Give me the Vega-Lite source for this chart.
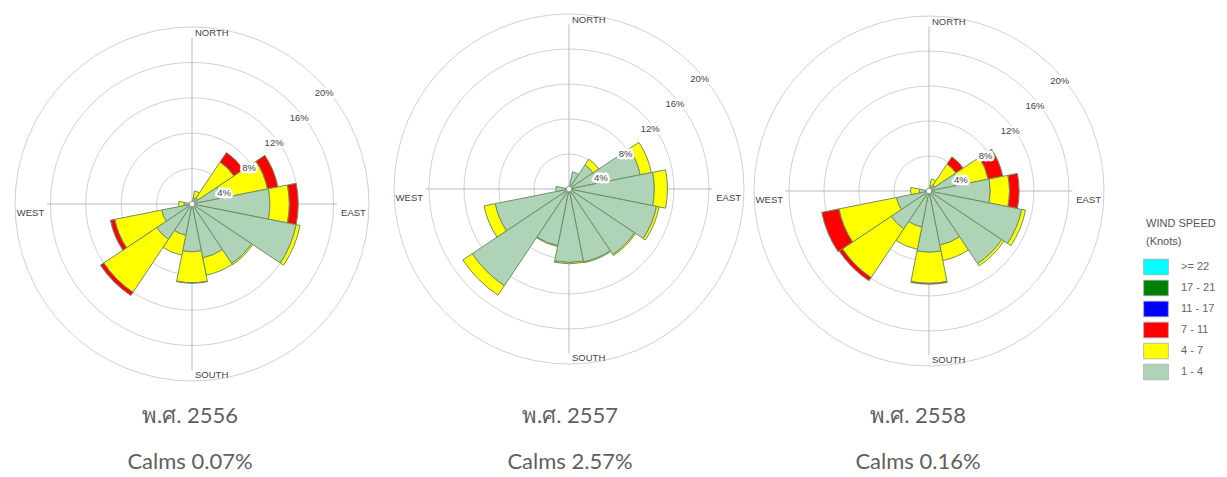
{
  "$schema": "https://vega.github.io/schema/vega-lite/v6.json",
  "padding": 0,
  "background": "white",
  "spacing": 0,
  "bounds": "flush",
  "datasets": {
    "wind": [
      {"year": "2556", "dir": "N", "speed": "1 - 4", "pct": 0.2},
      {"year": "2556", "dir": "NNE", "speed": "1 - 4", "pct": 0.7},
      {"year": "2556", "dir": "NNE", "speed": "4 - 7", "pct": 0.8},
      {"year": "2556", "dir": "NE", "speed": "1 - 4", "pct": 0.8},
      {"year": "2556", "dir": "NE", "speed": "4 - 7", "pct": 4.9},
      {"year": "2556", "dir": "NE", "speed": "7 - 11", "pct": 1.3},
      {"year": "2556", "dir": "ENE", "speed": "1 - 4", "pct": 3.4},
      {"year": "2556", "dir": "ENE", "speed": "4 - 7", "pct": 5.3},
      {"year": "2556", "dir": "ENE", "speed": "7 - 11", "pct": 1.2},
      {"year": "2556", "dir": "E", "speed": "1 - 4", "pct": 8.8},
      {"year": "2556", "dir": "E", "speed": "4 - 7", "pct": 2.2},
      {"year": "2556", "dir": "E", "speed": "7 - 11", "pct": 1.0},
      {"year": "2556", "dir": "ESE", "speed": "1 - 4", "pct": 12.0},
      {"year": "2556", "dir": "ESE", "speed": "4 - 7", "pct": 0.45},
      {"year": "2556", "dir": "SE", "speed": "1 - 4", "pct": 8.1},
      {"year": "2556", "dir": "SE", "speed": "4 - 7", "pct": 0.15},
      {"year": "2556", "dir": "SSE", "speed": "1 - 4", "pct": 6.2},
      {"year": "2556", "dir": "SSE", "speed": "4 - 7", "pct": 2.0},
      {"year": "2556", "dir": "S", "speed": "1 - 4", "pct": 5.4},
      {"year": "2556", "dir": "S", "speed": "4 - 7", "pct": 3.5},
      {"year": "2556", "dir": "S", "speed": "7 - 11", "pct": 0.05},
      {"year": "2556", "dir": "SSW", "speed": "1 - 4", "pct": 3.6},
      {"year": "2556", "dir": "SSW", "speed": "4 - 7", "pct": 2.3},
      {"year": "2556", "dir": "SW", "speed": "1 - 4", "pct": 4.8},
      {"year": "2556", "dir": "SW", "speed": "4 - 7", "pct": 7.2},
      {"year": "2556", "dir": "SW", "speed": "7 - 11", "pct": 0.45},
      {"year": "2556", "dir": "WSW", "speed": "1 - 4", "pct": 3.5},
      {"year": "2556", "dir": "WSW", "speed": "4 - 7", "pct": 5.4},
      {"year": "2556", "dir": "WSW", "speed": "7 - 11", "pct": 0.5},
      {"year": "2556", "dir": "W", "speed": "1 - 4", "pct": 0.9},
      {"year": "2556", "dir": "W", "speed": "4 - 7", "pct": 0.6},
      {"year": "2556", "dir": "WNW", "speed": "1 - 4", "pct": 0.2},
      {"year": "2556", "dir": "NW", "speed": "1 - 4", "pct": 0.1},
      {"year": "2556", "dir": "NNW", "speed": "1 - 4", "pct": 0.1},

      {"year": "2557", "dir": "N", "speed": "1 - 4", "pct": 0.3},
      {"year": "2557", "dir": "NNE", "speed": "1 - 4", "pct": 2.0},
      {"year": "2557", "dir": "NE", "speed": "1 - 4", "pct": 3.3},
      {"year": "2557", "dir": "NE", "speed": "4 - 7", "pct": 0.8},
      {"year": "2557", "dir": "ENE", "speed": "1 - 4", "pct": 8.3},
      {"year": "2557", "dir": "ENE", "speed": "4 - 7", "pct": 1.3},
      {"year": "2557", "dir": "E", "speed": "1 - 4", "pct": 9.75},
      {"year": "2557", "dir": "E", "speed": "4 - 7", "pct": 1.5},
      {"year": "2557", "dir": "ESE", "speed": "1 - 4", "pct": 10.2},
      {"year": "2557", "dir": "ESE", "speed": "4 - 7", "pct": 0.3},
      {"year": "2557", "dir": "SE", "speed": "1 - 4", "pct": 9.0},
      {"year": "2557", "dir": "SE", "speed": "4 - 7", "pct": 0.15},
      {"year": "2557", "dir": "SSE", "speed": "1 - 4", "pct": 8.5},
      {"year": "2557", "dir": "SSE", "speed": "4 - 7", "pct": 0.1},
      {"year": "2557", "dir": "S", "speed": "1 - 4", "pct": 8.4},
      {"year": "2557", "dir": "S", "speed": "4 - 7", "pct": 0.15},
      {"year": "2557", "dir": "SSW", "speed": "1 - 4", "pct": 6.6},
      {"year": "2557", "dir": "SSW", "speed": "4 - 7", "pct": 0.1},
      {"year": "2557", "dir": "SW", "speed": "1 - 4", "pct": 13.3},
      {"year": "2557", "dir": "SW", "speed": "4 - 7", "pct": 1.3},
      {"year": "2557", "dir": "WSW", "speed": "1 - 4", "pct": 8.6},
      {"year": "2557", "dir": "WSW", "speed": "4 - 7", "pct": 1.3},
      {"year": "2557", "dir": "W", "speed": "1 - 4", "pct": 1.5},
      {"year": "2557", "dir": "WNW", "speed": "1 - 4", "pct": 0.3},
      {"year": "2557", "dir": "NW", "speed": "1 - 4", "pct": 0.2},
      {"year": "2557", "dir": "NNW", "speed": "1 - 4", "pct": 0.2},

      {"year": "2558", "dir": "N", "speed": "1 - 4", "pct": 0.1},
      {"year": "2558", "dir": "NNE", "speed": "1 - 4", "pct": 0.6},
      {"year": "2558", "dir": "NNE", "speed": "4 - 7", "pct": 0.8},
      {"year": "2558", "dir": "NE", "speed": "1 - 4", "pct": 0.8},
      {"year": "2558", "dir": "NE", "speed": "4 - 7", "pct": 2.9},
      {"year": "2558", "dir": "NE", "speed": "7 - 11", "pct": 1.0},
      {"year": "2558", "dir": "ENE", "speed": "1 - 4", "pct": 3.5},
      {"year": "2558", "dir": "ENE", "speed": "4 - 7", "pct": 3.4},
      {"year": "2558", "dir": "ENE", "speed": "7 - 11", "pct": 1.7},
      {"year": "2558", "dir": "E", "speed": "1 - 4", "pct": 7.0},
      {"year": "2558", "dir": "E", "speed": "4 - 7", "pct": 2.2},
      {"year": "2558", "dir": "E", "speed": "7 - 11", "pct": 1.1},
      {"year": "2558", "dir": "ESE", "speed": "1 - 4", "pct": 10.8},
      {"year": "2558", "dir": "ESE", "speed": "4 - 7", "pct": 0.45},
      {"year": "2558", "dir": "SE", "speed": "1 - 4", "pct": 10.0},
      {"year": "2558", "dir": "SE", "speed": "4 - 7", "pct": 0.3},
      {"year": "2558", "dir": "SSE", "speed": "1 - 4", "pct": 6.3},
      {"year": "2558", "dir": "SSE", "speed": "4 - 7", "pct": 1.8},
      {"year": "2558", "dir": "S", "speed": "1 - 4", "pct": 7.0},
      {"year": "2558", "dir": "S", "speed": "4 - 7", "pct": 3.55},
      {"year": "2558", "dir": "S", "speed": "7 - 11", "pct": 0.1},
      {"year": "2558", "dir": "SSW", "speed": "1 - 4", "pct": 4.2},
      {"year": "2558", "dir": "SSW", "speed": "4 - 7", "pct": 2.6},
      {"year": "2558", "dir": "SW", "speed": "1 - 4", "pct": 5.2},
      {"year": "2558", "dir": "SW", "speed": "4 - 7", "pct": 6.7},
      {"year": "2558", "dir": "SW", "speed": "7 - 11", "pct": 0.45},
      {"year": "2558", "dir": "WSW", "speed": "1 - 4", "pct": 3.8},
      {"year": "2558", "dir": "WSW", "speed": "4 - 7", "pct": 6.7},
      {"year": "2558", "dir": "WSW", "speed": "7 - 11", "pct": 2.0},
      {"year": "2558", "dir": "W", "speed": "1 - 4", "pct": 1.1},
      {"year": "2558", "dir": "W", "speed": "4 - 7", "pct": 1.0},
      {"year": "2558", "dir": "WNW", "speed": "1 - 4", "pct": 0.2},
      {"year": "2558", "dir": "NW", "speed": "1 - 4", "pct": 0.1},
      {"year": "2558", "dir": "NNW", "speed": "1 - 4", "pct": 0.1}
    ],
    "rings": [
      {"ring": 4, "label": "4%"},
      {"ring": 8, "label": "8%"},
      {"ring": 12, "label": "12%"},
      {"ring": 16, "label": "16%"},
      {"ring": 20, "label": "20%"}
    ],
    "compass": [
      {"label": "NORTH", "dir": "N"},
      {"label": "SOUTH", "dir": "S"},
      {"label": "EAST", "dir": "E"},
      {"label": "WEST", "dir": "W"}
    ]
  },
  "hconcat": [
    {
      "width": 380,
      "height": 400,
      "title": {"text": ["พ.ศ. 2556", "Calms 0.07%"]},
      "layer": [
        {
          "data": {"name": "rings"},
          "mark": {"type": "arc", "filled": false, "stroke": "#d0d0da", "strokeWidth": 1, "theta": 0, "theta2": 6.2832},
          "encoding": {
            "x": {"datum": 0, "type": "quantitative", "scale": {"domain": [-21.695, 21.243], "nice": false, "zero": false}, "axis": null},
            "y": {"datum": 0, "type": "quantitative", "scale": {"domain": [-22.147, 23.051], "nice": false, "zero": false}, "axis": null},
            "radius": {"field": "ring", "type": "quantitative", "stack": null, "scale": {"type": "linear", "domain": [0, 20], "range": [0, 177], "zero": true, "nice": false}}
          }
        },
        {
          "data": {"values": [{}]},
          "mark": {"type": "rule", "stroke": "#b9b9cc", "strokeWidth": 1},
          "encoding": {
            "x": {"datum": -16.4, "type": "quantitative"},
            "x2": {"datum": 16.4},
            "y": {"datum": 0, "type": "quantitative"}
          }
        },
        {
          "data": {"values": [{}]},
          "mark": {"type": "rule", "stroke": "#b9b9cc", "strokeWidth": 1},
          "encoding": {
            "x": {"datum": 0, "type": "quantitative"},
            "y": {"datum": -18.8, "type": "quantitative"},
            "y2": {"datum": 18.8}
          }
        },
        {
          "data": {"name": "wind"},
          "transform": [
            {"filter": "datum.year === '2556'"},
            {"stack": "pct", "groupby": ["dir"], "sort": [{"field": "speed", "order": "ascending"}], "as": ["r0", "r1"]}
          ],
          "mark": {"type": "arc", "stroke": "#6f8f66", "strokeWidth": 1},
          "encoding": {
            "x": {"datum": 0, "type": "quantitative"},
            "y": {"datum": 0, "type": "quantitative"},
            "theta": {"field": "dir", "type": "nominal", "scale": {"type": "band", "domain": ["N","NNE","NE","ENE","E","ESE","SE","SSE","S","SSW","SW","WSW","W","WNW","NW","NNW"], "range": [-0.19635, 6.08684], "paddingInner": 0, "paddingOuter": 0}},
            "radius": {"field": "r1", "type": "quantitative", "stack": null},
            "radius2": {"field": "r0"},
            "color": {"field": "speed", "type": "nominal", "title": ["WIND SPEED", "(Knots)"], "scale": {"domain": [">= 22", "17 - 21", "11 - 17", "7 - 11", "4 - 7", "1 - 4"], "range": ["#00ffff", "#008000", "#0000ff", "#ff0000", "#ffff00", "#afd3b7"]}}
          }
        },
        {
          "data": {"values": [{}]},
          "mark": {"type": "point", "filled": true, "fill": "white", "stroke": "#999999", "strokeWidth": 1, "size": 30, "opacity": 1},
          "encoding": {
            "x": {"datum": 0, "type": "quantitative"},
            "y": {"datum": 0, "type": "quantitative"}
          }
        },
        {
          "data": {"name": "rings"},
          "mark": {"type": "text", "font": "Liberation Sans", "fontSize": 9.5, "fill": "white", "stroke": "white", "strokeWidth": 5, "strokeJoin": "round", "dx": 7, "dy": 14},
          "encoding": {
            "x": {"datum": 0, "type": "quantitative"},
            "y": {"datum": 0, "type": "quantitative"},
            "theta": {"datum": "NE", "type": "nominal", "bandPosition": 0.5},
            "radius": {"field": "ring", "type": "quantitative", "stack": null},
            "text": {"field": "label"}
          }
        },
        {
          "data": {"name": "rings"},
          "mark": {"type": "text", "font": "Liberation Sans", "fontSize": 9.5, "fill": "#444444", "dx": 7, "dy": 14},
          "encoding": {
            "x": {"datum": 0, "type": "quantitative"},
            "y": {"datum": 0, "type": "quantitative"},
            "theta": {"datum": "NE", "type": "nominal", "bandPosition": 0.5},
            "radius": {"field": "ring", "type": "quantitative", "stack": null},
            "text": {"field": "label"}
          }
        },
        {
          "data": {"name": "compass"},
          "transform": [{"filter": "datum.dir === 'N' || datum.dir === 'S'"}],
          "mark": {"type": "text", "font": "Liberation Sans", "fontSize": 9.5, "fill": "#444444", "align": "left", "baseline": "middle", "dx": 3},
          "encoding": {
            "x": {"datum": 0, "type": "quantitative"},
            "y": {"datum": 0, "type": "quantitative"},
            "theta": {"field": "dir", "type": "nominal", "bandPosition": 0.5},
            "radius": {"datum": 19.3, "type": "quantitative", "stack": null},
            "text": {"field": "label"}
          }
        },
        {
          "data": {"name": "compass"},
          "transform": [{"filter": "datum.dir === 'E' || datum.dir === 'W'"}],
          "mark": {"type": "text", "font": "Liberation Sans", "fontSize": 9.5, "fill": "#444444", "align": "center", "baseline": "middle", "dy": 9},
          "encoding": {
            "x": {"datum": 0, "type": "quantitative"},
            "y": {"datum": 0, "type": "quantitative"},
            "theta": {"field": "dir", "type": "nominal", "bandPosition": 0.5},
            "radius": {"datum": 18.25, "type": "quantitative", "stack": null},
            "text": {"field": "label"}
          }
        }
      ]
    },
    {
      "width": 380,
      "height": 400,
      "title": {"text": ["พ.ศ. 2557", "Calms 2.57%"]},
      "layer": [
        {
          "data": {"name": "rings"},
          "mark": {"type": "arc", "filled": false, "stroke": "#d0d0da", "strokeWidth": 1, "theta": 0, "theta2": 6.2832},
          "encoding": {
            "x": {"datum": 0, "type": "quantitative", "scale": {"domain": [-21.6, 21.829], "nice": false, "zero": false}, "axis": null},
            "y": {"datum": 0, "type": "quantitative", "scale": {"domain": [-24.114, 21.6], "nice": false, "zero": false}, "axis": null},
            "radius": {"field": "ring", "type": "quantitative", "stack": null, "scale": {"type": "linear", "domain": [0, 20], "range": [0, 175], "zero": true, "nice": false}}
          }
        },
        {
          "data": {"values": [{}]},
          "mark": {"type": "rule", "stroke": "#b9b9cc", "strokeWidth": 1},
          "encoding": {
            "x": {"datum": -16.4, "type": "quantitative"},
            "x2": {"datum": 16.4},
            "y": {"datum": 0, "type": "quantitative"}
          }
        },
        {
          "data": {"values": [{}]},
          "mark": {"type": "rule", "stroke": "#b9b9cc", "strokeWidth": 1},
          "encoding": {
            "x": {"datum": 0, "type": "quantitative"},
            "y": {"datum": -18.8, "type": "quantitative"},
            "y2": {"datum": 18.8}
          }
        },
        {
          "data": {"name": "wind"},
          "transform": [
            {"filter": "datum.year === '2557'"},
            {"stack": "pct", "groupby": ["dir"], "sort": [{"field": "speed", "order": "ascending"}], "as": ["r0", "r1"]}
          ],
          "mark": {"type": "arc", "stroke": "#6f8f66", "strokeWidth": 1},
          "encoding": {
            "x": {"datum": 0, "type": "quantitative"},
            "y": {"datum": 0, "type": "quantitative"},
            "theta": {"field": "dir", "type": "nominal", "scale": {"type": "band", "domain": ["N","NNE","NE","ENE","E","ESE","SE","SSE","S","SSW","SW","WSW","W","WNW","NW","NNW"], "range": [-0.19635, 6.08684], "paddingInner": 0, "paddingOuter": 0}},
            "radius": {"field": "r1", "type": "quantitative", "stack": null},
            "radius2": {"field": "r0"},
            "color": {"field": "speed", "type": "nominal", "title": ["WIND SPEED", "(Knots)"], "scale": {"domain": [">= 22", "17 - 21", "11 - 17", "7 - 11", "4 - 7", "1 - 4"], "range": ["#00ffff", "#008000", "#0000ff", "#ff0000", "#ffff00", "#afd3b7"]}}
          }
        },
        {
          "data": {"values": [{}]},
          "mark": {"type": "point", "filled": true, "fill": "white", "stroke": "#999999", "strokeWidth": 1, "size": 30, "opacity": 1},
          "encoding": {
            "x": {"datum": 0, "type": "quantitative"},
            "y": {"datum": 0, "type": "quantitative"}
          }
        },
        {
          "data": {"name": "rings"},
          "mark": {"type": "text", "font": "Liberation Sans", "fontSize": 9.5, "fill": "white", "stroke": "white", "strokeWidth": 5, "strokeJoin": "round", "dx": 7, "dy": 14},
          "encoding": {
            "x": {"datum": 0, "type": "quantitative"},
            "y": {"datum": 0, "type": "quantitative"},
            "theta": {"datum": "NE", "type": "nominal", "bandPosition": 0.5},
            "radius": {"field": "ring", "type": "quantitative", "stack": null},
            "text": {"field": "label"}
          }
        },
        {
          "data": {"name": "rings"},
          "mark": {"type": "text", "font": "Liberation Sans", "fontSize": 9.5, "fill": "#444444", "dx": 7, "dy": 14},
          "encoding": {
            "x": {"datum": 0, "type": "quantitative"},
            "y": {"datum": 0, "type": "quantitative"},
            "theta": {"datum": "NE", "type": "nominal", "bandPosition": 0.5},
            "radius": {"field": "ring", "type": "quantitative", "stack": null},
            "text": {"field": "label"}
          }
        },
        {
          "data": {"name": "compass"},
          "transform": [{"filter": "datum.dir === 'N' || datum.dir === 'S'"}],
          "mark": {"type": "text", "font": "Liberation Sans", "fontSize": 9.5, "fill": "#444444", "align": "left", "baseline": "middle", "dx": 3},
          "encoding": {
            "x": {"datum": 0, "type": "quantitative"},
            "y": {"datum": 0, "type": "quantitative"},
            "theta": {"field": "dir", "type": "nominal", "bandPosition": 0.5},
            "radius": {"datum": 19.3, "type": "quantitative", "stack": null},
            "text": {"field": "label"}
          }
        },
        {
          "data": {"name": "compass"},
          "transform": [{"filter": "datum.dir === 'E' || datum.dir === 'W'"}],
          "mark": {"type": "text", "font": "Liberation Sans", "fontSize": 9.5, "fill": "#444444", "align": "center", "baseline": "middle", "dy": 9},
          "encoding": {
            "x": {"datum": 0, "type": "quantitative"},
            "y": {"datum": 0, "type": "quantitative"},
            "theta": {"field": "dir", "type": "nominal", "bandPosition": 0.5},
            "radius": {"datum": 18.25, "type": "quantitative", "stack": null},
            "text": {"field": "label"}
          }
        }
      ]
    },
    {
      "width": 316,
      "height": 400,
      "title": {"text": ["พ.ศ. 2558", "Calms 0.16%"]},
      "layer": [
        {
          "data": {"name": "rings"},
          "mark": {"type": "arc", "filled": false, "stroke": "#d0d0da", "strokeWidth": 1, "theta": 0, "theta2": 6.2832},
          "encoding": {
            "x": {"datum": 0, "type": "quantitative", "scale": {"domain": [-19.314, 16.8], "nice": false, "zero": false}, "axis": null},
            "y": {"datum": 0, "type": "quantitative", "scale": {"domain": [-23.886, 21.829], "nice": false, "zero": false}, "axis": null},
            "radius": {"field": "ring", "type": "quantitative", "stack": null, "scale": {"type": "linear", "domain": [0, 20], "range": [0, 175], "zero": true, "nice": false}}
          }
        },
        {
          "data": {"values": [{}]},
          "mark": {"type": "rule", "stroke": "#b9b9cc", "strokeWidth": 1},
          "encoding": {
            "x": {"datum": -16.4, "type": "quantitative"},
            "x2": {"datum": 16.4},
            "y": {"datum": 0, "type": "quantitative"}
          }
        },
        {
          "data": {"values": [{}]},
          "mark": {"type": "rule", "stroke": "#b9b9cc", "strokeWidth": 1},
          "encoding": {
            "x": {"datum": 0, "type": "quantitative"},
            "y": {"datum": -18.8, "type": "quantitative"},
            "y2": {"datum": 18.8}
          }
        },
        {
          "data": {"name": "wind"},
          "transform": [
            {"filter": "datum.year === '2558'"},
            {"stack": "pct", "groupby": ["dir"], "sort": [{"field": "speed", "order": "ascending"}], "as": ["r0", "r1"]}
          ],
          "mark": {"type": "arc", "stroke": "#6f8f66", "strokeWidth": 1},
          "encoding": {
            "x": {"datum": 0, "type": "quantitative"},
            "y": {"datum": 0, "type": "quantitative"},
            "theta": {"field": "dir", "type": "nominal", "scale": {"type": "band", "domain": ["N","NNE","NE","ENE","E","ESE","SE","SSE","S","SSW","SW","WSW","W","WNW","NW","NNW"], "range": [-0.19635, 6.08684], "paddingInner": 0, "paddingOuter": 0}},
            "radius": {"field": "r1", "type": "quantitative", "stack": null},
            "radius2": {"field": "r0"},
            "color": {"field": "speed", "type": "nominal", "title": ["WIND SPEED", "(Knots)"], "scale": {"domain": [">= 22", "17 - 21", "11 - 17", "7 - 11", "4 - 7", "1 - 4"], "range": ["#00ffff", "#008000", "#0000ff", "#ff0000", "#ffff00", "#afd3b7"]}}
          }
        },
        {
          "data": {"values": [{}]},
          "mark": {"type": "point", "filled": true, "fill": "white", "stroke": "#999999", "strokeWidth": 1, "size": 30, "opacity": 1},
          "encoding": {
            "x": {"datum": 0, "type": "quantitative"},
            "y": {"datum": 0, "type": "quantitative"}
          }
        },
        {
          "data": {"name": "rings"},
          "mark": {"type": "text", "font": "Liberation Sans", "fontSize": 9.5, "fill": "white", "stroke": "white", "strokeWidth": 5, "strokeJoin": "round", "dx": 7, "dy": 14},
          "encoding": {
            "x": {"datum": 0, "type": "quantitative"},
            "y": {"datum": 0, "type": "quantitative"},
            "theta": {"datum": "NE", "type": "nominal", "bandPosition": 0.5},
            "radius": {"field": "ring", "type": "quantitative", "stack": null},
            "text": {"field": "label"}
          }
        },
        {
          "data": {"name": "rings"},
          "mark": {"type": "text", "font": "Liberation Sans", "fontSize": 9.5, "fill": "#444444", "dx": 7, "dy": 14},
          "encoding": {
            "x": {"datum": 0, "type": "quantitative"},
            "y": {"datum": 0, "type": "quantitative"},
            "theta": {"datum": "NE", "type": "nominal", "bandPosition": 0.5},
            "radius": {"field": "ring", "type": "quantitative", "stack": null},
            "text": {"field": "label"}
          }
        },
        {
          "data": {"name": "compass"},
          "transform": [{"filter": "datum.dir === 'N' || datum.dir === 'S'"}],
          "mark": {"type": "text", "font": "Liberation Sans", "fontSize": 9.5, "fill": "#444444", "align": "left", "baseline": "middle", "dx": 3},
          "encoding": {
            "x": {"datum": 0, "type": "quantitative"},
            "y": {"datum": 0, "type": "quantitative"},
            "theta": {"field": "dir", "type": "nominal", "bandPosition": 0.5},
            "radius": {"datum": 19.3, "type": "quantitative", "stack": null},
            "text": {"field": "label"}
          }
        },
        {
          "data": {"name": "compass"},
          "transform": [{"filter": "datum.dir === 'E' || datum.dir === 'W'"}],
          "mark": {"type": "text", "font": "Liberation Sans", "fontSize": 9.5, "fill": "#444444", "align": "center", "baseline": "middle", "dy": 9},
          "encoding": {
            "x": {"datum": 0, "type": "quantitative"},
            "y": {"datum": 0, "type": "quantitative"},
            "theta": {"field": "dir", "type": "nominal", "bandPosition": 0.5},
            "radius": {"datum": 18.25, "type": "quantitative", "stack": null},
            "text": {"field": "label"}
          }
        }
      ]
    }
  ],
  "resolve": {"scale": {"x": "independent", "y": "independent", "radius": "independent", "theta": "independent", "color": "shared"}},
  "config": {
    "view": {"stroke": null},
    "title": {"orient": "bottom", "anchor": "middle", "font": "Lato", "fontSize": 22, "fontWeight": "normal", "color": "#5f5f5f", "lineHeight": 46, "offset": 6},
    "legend": {
      "orient": "none",
      "legendX": 1146,
      "legendY": 218,
      "padding": 0,
      "titleFont": "Liberation Sans",
      "titleFontSize": 11,
      "titleFontWeight": "normal",
      "titleColor": "#555555",
      "titleLineHeight": 18,
      "titlePadding": 10,
      "labelFont": "Liberation Sans",
      "labelFontSize": 11,
      "labelColor": "#666666",
      "labelOffset": 15,
      "symbolType": "M-1.3,-0.82L1.3,-0.82L1.3,0.82L-1.3,0.82Z",
      "symbolSize": 361,
      "symbolStrokeColor": "#aaaaaa",
      "symbolStrokeWidth": 0.8,
      "symbolOpacity": 1,
      "rowPadding": 1
    },
    "axis": {"domain": false}
  }
}
